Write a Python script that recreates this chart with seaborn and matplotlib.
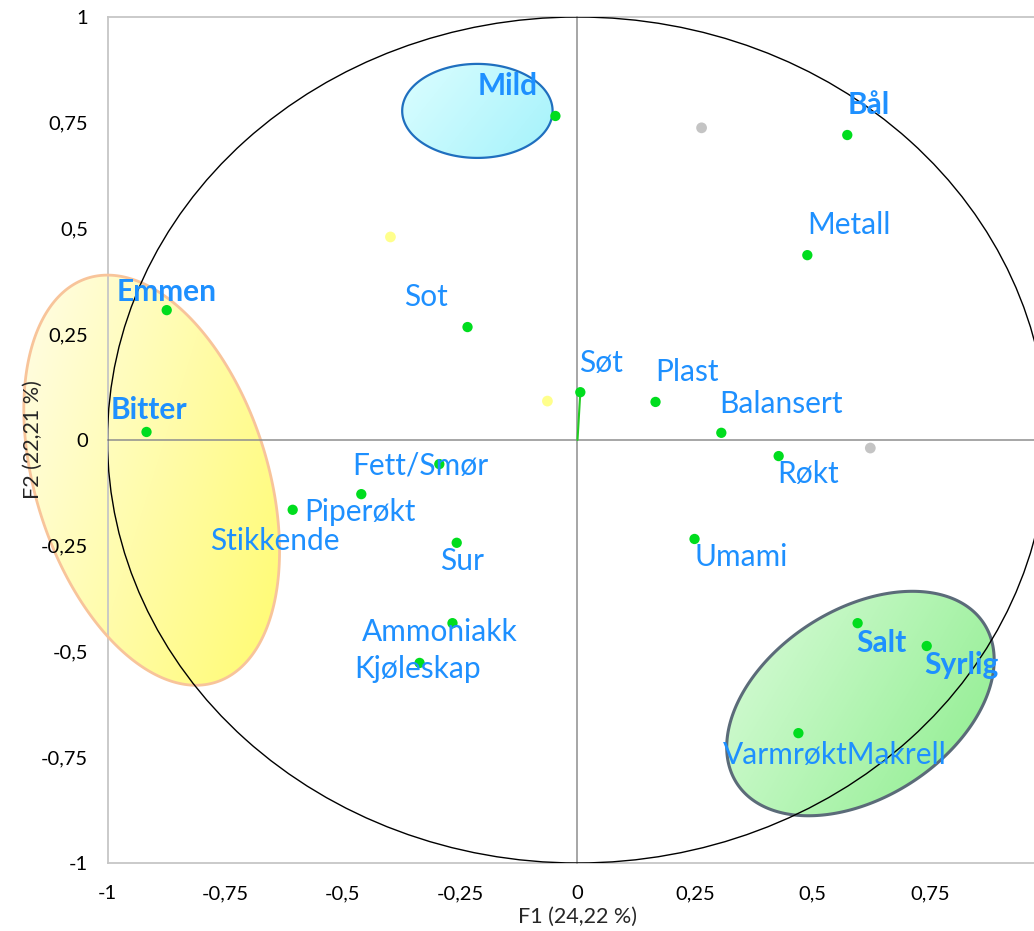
import numpy as np
import matplotlib
matplotlib.use("Agg")
import matplotlib.pyplot as plt
import seaborn as sns
from matplotlib.patches import Polygon, Circle
from matplotlib.colors import to_rgb

# ---------------- data ----------------
attributes = ["Mild", "Bål", "Metall", "Sot", "Emmen", "Søt", "Plast", "Balansert",
              "Bitter", "Røkt", "Fett/Smør", "Piperøkt", "Stikkende", "Sur", "Umami",
              "Ammoniakk", "Kjøleskap", "Salt", "Syrlig", "VarmrøktMakrell"]
f1 = [-0.047, 0.574, 0.489, -0.234, -0.874, 0.006, 0.166, 0.306,
      -0.917, 0.428, -0.294, -0.460, -0.606, -0.257, 0.249,
      -0.266, -0.336, 0.596, 0.743, 0.470]
f2 = [0.766, 0.721, 0.437, 0.267, 0.307, 0.113, 0.090, 0.017,
      0.019, -0.038, -0.057, -0.128, -0.165, -0.243, -0.234,
      -0.433, -0.527, -0.433, -0.487, -0.693]
bold_attributes = ["Mild", "Bål", "Emmen", "Bitter", "Salt", "Syrlig"]
vector_attribute = "Søt"

gray_f1 = [0.264, 0.623]
gray_f2 = [0.738, -0.019]
yellow_f1 = [-0.398, -0.064]
yellow_f2 = [0.480, 0.092]

x_ticks = [-1, -0.75, -0.5, -0.25, 0, 0.25, 0.5, 0.75]
x_tick_labels = ["-1", "-0,75", "-0,5", "-0,25", "0", "0,25", "0,5", "0,75"]
y_ticks = [-1, -0.75, -0.5, -0.25, 0, 0.25, 0.5, 0.75, 1]
y_tick_labels = ["-1", "-0,75", "-0,5", "-0,25", "0", "0,25", "0,5", "0,75", "1"]
x_title = "F1 (24,22 %)"
y_title = "F2 (22,21 %)"

# ---------------- layout / style ----------------
label_offsets = {  # pixels: (dx to left edge, dy of text centre, screen-down positive)
    "Mild": (-78, -30), "Bål": (0, -30), "Metall": (0, -30), "Sot": (-63, -30),
    "Emmen": (-50, -18), "Søt": (-1, -29), "Plast": (0, -30), "Balansert": (-2, -29),
    "Bitter": (-36, -22), "Røkt": (-1, 18), "Fett/Smør": (-87, 1), "Piperøkt": (-57, 18),
    "Stikkende": (-83, 31), "Sur": (-17, 18), "Umami": (0, 18), "Ammoniakk": (-91, 9),
    "Kjøleskap": (-65, 6), "Salt": (-1, 20), "Syrlig": (-2, 19), "VarmrøktMakrell": (-75, 22),
}
# ellipse specs: centre (data), semi-axes (x-data units), angle (deg), colours
ellipses = [
    dict(c=(-0.213, 0.778), a=0.160, b=0.100, ang=0.0,
         c0="#dcfeff", c1="#a4f2fb", edge="#1f6fbf", lw=1.6),
    dict(c=(-0.906, -0.095), a=0.451, b=0.247, ang=107.6,
         c0="#fffde6", c1="#fffb70", edge="#f8c49a", lw=2.0),
    dict(c=(0.602, -0.623), a=0.313, b=0.200, ang=32.8,
         c0="#dafcda", c1="#8ced8c", edge="#5b6b79", lw=2.2),
]

sns.set_style("white")
plt.rcParams["font.family"] = ["Lato", "DejaVu Sans"]

W, H = 1034, 931
fig = plt.figure(figsize=(W / 100, H / 100), dpi=100)
fig.patch.set_facecolor("white")
rect = [107.5 / W, (H - 863) / H, 940 / W, 846 / H]
ax = fig.add_axes(rect)
ax.set_xlim(-1, 1)
ax.set_ylim(-1, 1)
px_x = rect[2] * W / 2.0
px_y = rect[3] * H / 2.0
ratio = px_x / px_y

for s in ["left", "bottom", "top"]:
    ax.spines[s].set_color("#c6c6c6")
    ax.spines[s].set_linewidth(1.3)
ax.spines["right"].set_visible(False)
ax.set_xticks(x_ticks)
ax.set_xticklabels(x_tick_labels)
ax.set_yticks(y_ticks)
ax.set_yticklabels(y_tick_labels)
ax.tick_params(axis="both", length=0, labelsize=14.5, colors="black")
ax.tick_params(axis="y", pad=14)
ax.tick_params(axis="x", pad=16)
ax.set_xlabel(x_title, fontsize=15.5, va="center")
ax.set_ylabel(y_title, fontsize=15.5, va="center")
ax.xaxis.set_label_coords((578 - 107.5) / 940, (863 - 917) / 846)
ax.yaxis.set_label_coords((33 - 107.5) / 940, (863 - 440) / 846)
ax.yaxis.set_zorder(6)
ax.xaxis.set_zorder(6)


def ellipse_points(cx, cy, a, b, ang):
    t = np.linspace(0, 2 * np.pi, 300)
    ph = np.deg2rad(ang)
    dx = a * np.cos(t) * np.cos(ph) - b * np.sin(t) * np.sin(ph)
    dy = a * np.cos(t) * np.sin(ph) + b * np.sin(t) * np.cos(ph)
    return np.column_stack([cx + dx, cy + dy * ratio])


for e in ellipses:
    pts = ellipse_points(e["c"][0], e["c"][1], e["a"], e["b"], e["ang"])
    poly = Polygon(pts, closed=True, facecolor="none", edgecolor=e["edge"],
                   lw=e["lw"], clip_on=False, zorder=3)
    ax.add_patch(poly)
    x0, x1 = pts[:, 0].min(), pts[:, 0].max()
    y0, y1 = pts[:, 1].min(), pts[:, 1].max()
    n = 200
    U, V = np.meshgrid(np.linspace(0, 1, n), np.linspace(0, 1, n))
    tt = ((2 * U + V) / 3.0)[..., None]
    img = np.array(to_rgb(e["c0"])) * (1 - tt) + np.array(to_rgb(e["c1"])) * tt
    im = ax.imshow(img, extent=(x0, x1, y0, y1), origin="upper", aspect="auto",
                   zorder=2, interpolation="bilinear")
    im.set_clip_path(poly)
    im.set_clip_box(fig.bbox)

ax.set_xlim(-1, 1)
ax.set_ylim(-1, 1)

# overlay axes: zero lines with ticks + data marks
ax2 = fig.add_axes(rect)
ax2.set_xlim(-1, 1)
ax2.set_ylim(-1, 1)
ax2.patch.set_visible(False)
for s in ["top", "right"]:
    ax2.spines[s].set_visible(False)
for s in ["left", "bottom"]:
    ax2.spines[s].set_position(("data", 0))
    ax2.spines[s].set_color("#8e8e8e")
    ax2.spines[s].set_linewidth(1.1)
ax2.set_xticks(x_ticks)
ax2.set_yticks(y_ticks)
ax2.tick_params(axis="both", direction="inout", length=11, width=1.0,
                color="#8e8e8e", labelleft=False, labelbottom=False)

ax2.add_patch(Circle((0, 0), 1.0, facecolor="none", edgecolor="black", lw=1.0, zorder=4))

vi = attributes.index(vector_attribute)
ax2.plot([0, f1[vi]], [0, f2[vi]], color="#22cc22", lw=1.5, zorder=5)

sns.scatterplot(x=gray_f1, y=gray_f2, color="#c4c4c4", s=60, edgecolor="none",
                ax=ax2, zorder=6, legend=False)
sns.scatterplot(x=yellow_f1, y=yellow_f2, color="#ffff8c", s=60, edgecolor="none",
                ax=ax2, zorder=6, legend=False)
sns.scatterplot(x=f1, y=f2, color="#00dd1e", s=55, edgecolor="none",
                ax=ax2, zorder=7, legend=False)

for name, x, y in zip(attributes, f1, f2):
    dx, dy = label_offsets[name]
    ax2.annotate(name, (x, y), xytext=(dx, -dy), textcoords="offset pixels",
                 ha="left", va="center", fontsize=21.5, color="#1e90ff",
                 fontweight="bold" if name in bold_attributes else "normal",
                 zorder=8, annotation_clip=False)

ax2.set_xlabel("")
ax2.set_ylabel("")
ax2.set_xlim(-1, 1)
ax2.set_ylim(-1, 1)

fig.savefig("out.png", dpi=100)
